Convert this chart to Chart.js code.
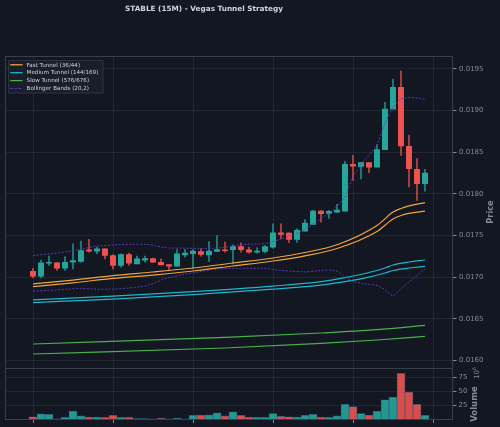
<!DOCTYPE html>
<html><head><meta charset="utf-8">
<script src="https://cdn.jsdelivr.net/npm/chart.js@4.4.1/dist/chart.umd.min.js"></script>
<style>
html,body{margin:0;padding:0;background:#131722;overflow:hidden}
#wrap{width:500px;height:427px;position:relative;background:#131722}
#c{position:absolute;left:0;top:0}
.ov{position:absolute;font-family:"DejaVu Sans",sans-serif;white-space:nowrap;pointer-events:none}
.rot{transform:rotate(-90deg);text-align:center}
.frame{position:absolute;box-sizing:border-box;border:1px solid #3a3e4a;pointer-events:none}
</style>
</head><body><div id="wrap">
<canvas id="c" width="500" height="427"></canvas>
<div class="frame" id="fp"></div><div class="frame" id="fv"></div>
<div class="ov" id="title" style="left:0;top:3.5px;width:408px;text-align:center;font-weight:bold;font-size:7.3px;line-height:10px;color:#d1d4dc"></div>
<div class="ov rot" id="plabel" style="width:60px;height:10px;line-height:10px;font-weight:bold;font-size:8.2px;color:#868a96">Price</div>
<div class="ov rot" id="vlabel" style="left:443.5px;top:398.5px;width:60px;height:10px;line-height:10px;font-weight:bold;font-size:8.5px;color:#868a96">Volume</div>
<div class="ov rot" id="voff" style="left:458.5px;top:368px;width:30px;height:10px;line-height:10px;font-size:7px;color:#868a96">10<span style="font-size:5px;vertical-align:3px">6</span></div>
</div>
<script>
// ---------- DATA ----------
const openP  = [0.017072,0.017012,0.017168,0.017173,0.017108,0.017180,0.017189,0.017330,0.017313,0.017342,
                0.017261,0.017141,0.017273,0.017161,0.017205,0.017225,0.017180,0.017153,0.017132,0.017269,
                0.017282,0.017309,0.017269,0.017309,0.017330,0.017330,0.017369,0.017330,0.017301,0.017309,
                0.017361,0.017534,0.017529,0.017454,0.017553,0.017634,0.017794,0.017766,0.017782,0.017794,
                0.018356,0.018332,0.018376,0.018323,0.018533,0.019018,0.019279,0.018573,0.018296,0.018124];
const closeP = [0.017012,0.017173,0.017180,0.017108,0.017180,0.017201,0.017321,0.017313,0.017342,0.017261,
                0.017141,0.017273,0.017168,0.017221,0.017225,0.017180,0.017149,0.017132,0.017282,0.017289,
                0.017313,0.017273,0.017313,0.017333,0.017318,0.017369,0.017330,0.017301,0.017313,0.017369,
                0.017534,0.017514,0.017454,0.017562,0.017649,0.017794,0.017763,0.017790,0.017806,0.018356,
                0.018335,0.018376,0.018323,0.018533,0.019018,0.019279,0.018577,0.018305,0.018124,0.018251];
const highP  = [0.017108,0.017205,0.017253,0.017177,0.017249,0.017402,0.017433,0.017454,0.017361,0.017345,
                0.017273,0.017282,0.017289,0.017253,0.017253,0.017229,0.017221,0.017153,0.017333,0.017333,
                0.017333,0.017342,0.017429,0.017502,0.017421,0.017390,0.017414,0.017361,0.017353,0.017381,
                0.017642,0.017642,0.017534,0.017582,0.017693,0.017802,0.017799,0.017802,0.017874,0.018392,
                0.018464,0.018380,0.018380,0.018593,0.019099,0.019380,0.019479,0.018706,0.018424,0.018296];
const lowP   = [0.016995,0.016993,0.017141,0.017081,0.017081,0.017101,0.017180,0.017301,0.017282,0.017221,
                0.017101,0.017120,0.017141,0.017161,0.017180,0.017177,0.017149,0.017081,0.017132,0.017241,
                0.017101,0.017253,0.017189,0.017309,0.017301,0.017161,0.017301,0.017289,0.017289,0.017293,
                0.017349,0.017462,0.017414,0.017421,0.017553,0.017634,0.017662,0.017705,0.017774,0.017794,
                0.018164,0.018180,0.018256,0.018323,0.018533,0.019018,0.018464,0.018085,0.017923,0.018032];
// volume in millions (axis offset 10^6)
const volumeM = [4.9,10,9,1,3.8,14.8,6.6,4.3,4.3,3.8,
                 7.3,3.8,3.8,1.5,1.5,1,2,1,2,1,
                 7.3,7.8,8.4,11.8,6.6,13.5,7.3,4.3,3.8,3.8,
                 10.7,5.5,4.9,4.3,7.3,9,4.3,3.8,6.6,26.9,
                 22.9,10.7,7.8,14.8,35,39.6,81.9,48.3,26.9,7.3];

// tunnel / band readings (candle index, value)
const fastIdx   = [0,5,10,15,20,25,30,34,38,43,45,46,47,49];
const fastUpper = [0.016921,0.016966,0.017020,0.017063,0.017111,0.017171,0.017231,0.017297,0.017390,0.017622,0.017782,0.017826,0.017857,0.017895];
const fastLower = [0.016888,0.016933,0.016987,0.017026,0.017075,0.017135,0.017195,0.017257,0.017345,0.017550,0.017700,0.017742,0.017766,0.017794];
const medIdx    = [0,10,20,30,36,39,42,44,45,47,49];
const medUpper  = [0.016728,0.016774,0.016828,0.016894,0.016948,0.016996,0.017057,0.017111,0.017147,0.017183,0.017207];
const medLower  = [0.016696,0.016738,0.016792,0.016858,0.016906,0.016948,0.017002,0.017051,0.017081,0.017111,0.017131];
const slowIdx   = [0,24,36,43,49];
const slowUpper = [0.016199,0.016278,0.016331,0.016371,0.016423];
const slowLower = [0.016079,0.016151,0.016206,0.016247,0.016290];
const bbUpIdx   = [0,2,4,6,8,11,14,15,16,17,22,24,25,26,29,30,31,32,33,34,35,36,37,38,39,40,41,42,43,44,45,46,47,48,49];
const bbUpper   = [0.017261,0.017279,0.017303,0.017339,0.017375,0.017393,0.017397,0.017387,0.017363,0.017351,0.017345,0.017357,0.017375,0.017393,0.017402,0.017429,0.017460,0.017490,0.017526,0.017574,0.017634,0.017706,0.017766,0.017851,0.017959,0.018211,0.018356,0.018464,0.018584,0.018849,0.019041,0.019144,0.019158,0.019153,0.019138];
const bbLoIdx   = [0,3,6,8,10,12,14,15,16,17,19,21,23,25,29,30,31,34,36,37,38,39,40,42,43,44,45,47,49];
const bbLower   = [0.016834,0.016848,0.016868,0.016856,0.016858,0.016870,0.016894,0.016924,0.016966,0.016996,0.017038,0.017069,0.017099,0.017108,0.017108,0.017093,0.017081,0.017063,0.017081,0.017089,0.017075,0.017008,0.016948,0.016912,0.016906,0.016852,0.016774,0.016942,0.017101];

const priceTicks = [0.0160,0.0165,0.0170,0.0175,0.0180,0.0185,0.0190,0.0195];
const volTicks   = [25,50,75];
const xTicks     = [0,10,20,30,40,50];
const TITLE = 'STABLE (15M) - Vegas Tunnel Strategy';
const legendLabels = ['Fast Tunnel (36/44)','Medium Tunnel (144/169)','Slow Tunnel (576/676)','Bollinger Bands (20,2)'];

// ---------- STYLE ----------
const GRID = 'rgba(255,255,255,0.065)', TICKC = '#868a96';
const UP = '#26a69a', DN = '#ef5350';
const C_FAST = '#f2a33a', C_MED = '#1fb5cc', C_SLOW = '#4caf50', C_BB = 'rgba(94,60,200,0.9)';
const FONT = 'DejaVu Sans';
Chart.defaults.font.family = FONT;

const isUp = openP.map((o,i)=>closeP[i]>=o);
const pts = (idx, vals) => idx.map((x,k)=>({x, y: vals[k]}));

const lineDs = (label, idx, vals, color, extra) => Object.assign({
  type:'line', label, data: pts(idx, vals), yAxisID:'y', borderColor: color, borderWidth: 1.2,
  pointRadius: 0, fill: false, cubicInterpolationMode: 'monotone', order: 1
}, extra || {});

const datasets = [
  lineDs('BB upper', bbUpIdx, bbUpper, C_BB, {borderDash:[2,1.6], borderWidth:1, cubicInterpolationMode:'default', tension:0, order:0}),
  lineDs('BB lower', bbLoIdx, bbLower, C_BB, {borderDash:[2,1.6], borderWidth:1, cubicInterpolationMode:'default', tension:0, order:0}),
  lineDs('Fast A', fastIdx, fastUpper, C_FAST),
  lineDs('Fast B', fastIdx, fastLower, C_FAST),
  lineDs('Med A', medIdx, medUpper, C_MED),
  lineDs('Med B', medIdx, medLower, C_MED),
  lineDs('Slow A', slowIdx, slowUpper, C_SLOW),
  lineDs('Slow B', slowIdx, slowLower, C_SLOW),
  { type:'bar', label:'bodies', yAxisID:'y', order:3, grouped:false, barThickness:5.3, minBarLength:1,
    data: openP.map((o,i)=>({x:i, y:[o, closeP[i]]})),
    backgroundColor: isUp.map(u=>u?UP:DN), borderWidth:0 },
  { type:'bar', label:'wicks', yAxisID:'y', order:4, grouped:false, barThickness:1,
    data: lowP.map((l,i)=>({x:i, y:[l, highP[i]]})),
    backgroundColor: isUp.map(u=>u?'rgba(38,166,154,0.8)':'rgba(239,83,80,0.8)'), borderWidth:0 },
  { type:'bar', label:'volume', yAxisID:'yv', order:5, grouped:false, barThickness:8,
    data: volumeM.map((v,i)=>({x:i, y:v})),
    backgroundColor: isUp.map(u=>u?'rgba(38,166,154,0.9)':'rgba(239,83,80,0.9)'),
    borderColor: 'rgba(50,85,125,0.9)', borderWidth: 0.7 }
];

// clip all canvas drawing to the plot band; draw legend last
const deco = {
  id:'deco',
  beforeDraw(chart){ const c = chart.ctx; c.save(); c.beginPath(); c.rect(0, 50, chart.width, chart.height-50); c.clip(); },
  afterDraw(chart){
    const c = chart.ctx;
    const lx = 8.5, ly = 60.5, lw = 94.5, lh = 32.5;
    c.save();
    c.fillStyle = 'rgba(28,32,43,0.85)'; c.strokeStyle = '#363a46'; c.lineWidth = 0.8;
    c.beginPath(); c.rect(lx, ly, lw, lh); c.fill(); c.stroke();
    const cols = [C_FAST, C_MED, C_SLOW, C_BB];
    c.font = `5.6px "${FONT}"`; c.textAlign = 'left'; c.textBaseline = 'middle';
    legendLabels.forEach((t,k)=>{
      const y = 64.8 + k*7.9;
      c.strokeStyle = cols[k]; c.lineWidth = k===3 ? 1.1 : 1.3;
      c.setLineDash(k===3 ? [2.6,1.6] : []);
      c.beginPath(); c.moveTo(10.2, y); c.lineTo(22.6, y); c.stroke();
      c.setLineDash([]);
      c.fillStyle = '#d1d4dc'; c.fillText(t, 26.6, y+0.3);
    });
    c.restore();
    c.restore(); // matches beforeDraw clip
  }
};

const chart = new Chart(document.getElementById('c'), {
  type:'bar',
  data:{ datasets },
  options:{
    responsive:false, animation:false, devicePixelRatio:1,
    layout:{ padding:{ left:5, top:56, right:0, bottom:0 } },
    plugins:{ legend:{display:false}, tooltip:{enabled:false}, title:{display:false} },
    scales:{
      x:{ type:'linear', position:'bottom', min:-3.5, max:52.5, offset:false,
          afterBuildTicks: s => { s.ticks = xTicks.map(v=>({value:v})); },
          afterFit: s => { s.height = 7.5; },
          ticks:{ display:false },
          grid:{ offset:false, color:GRID, lineWidth:1, drawTicks:true, tickLength:3.5, tickColor:TICKC },
          border:{ display:false } },
      y:{ type:'linear', position:'right', stack:'p', stackWeight:6, min:0.015916, max:0.019656,
          afterBuildTicks: s => { s.ticks = priceTicks.map(v=>({value:v})); },
          afterFit: s => { s.width = 47; },
          ticks:{ color:TICKC, font:{size:7}, padding:2.5, callback: v => Number(v).toFixed(4) },
          grid:{ color:GRID, lineWidth:1, drawTicks:true, tickLength:3.5, tickColor:TICKC },
          border:{ display:false } },
      yv:{ type:'linear', position:'right', stack:'p', stackWeight:1, min:0, max:92,
          afterBuildTicks: s => { s.ticks = volTicks.map(v=>({value:v})); },
          afterFit: s => { s.width = 47; },
          ticks:{ color:TICKC, font:{size:7}, padding:2, callback: v => String(v) },
          grid:{ color:GRID, lineWidth:1, drawTicks:true, tickLength:3.5, tickColor:TICKC },
          border:{ display:false } }
    }
  },
  plugins:[deco]
});

// ---------- HTML overlays (frames, title, axis titles) ----------
(function(){
  const a = chart.chartArea, yp = chart.scales.y;
  const L = Math.round(a.left), R = Math.round(a.right), T = Math.round(a.top),
        B = Math.round(a.bottom), M = Math.round(yp.bottom);
  const fp = document.getElementById('fp'), fv = document.getElementById('fv');
  Object.assign(fp.style, {left:L+'px', top:T+'px', width:(R-L)+'px', height:(M-T+1)+'px'});
  Object.assign(fv.style, {left:L+'px', top:M+'px', width:(R-L)+'px', height:(B-M)+'px'});
  document.getElementById('title').textContent = TITLE;
  const pl = document.getElementById('plabel');
  pl.style.left = (490-30)+'px'; pl.style.top = ((yp.top+yp.bottom)/2-5)+'px';
})();
</script></body></html>
